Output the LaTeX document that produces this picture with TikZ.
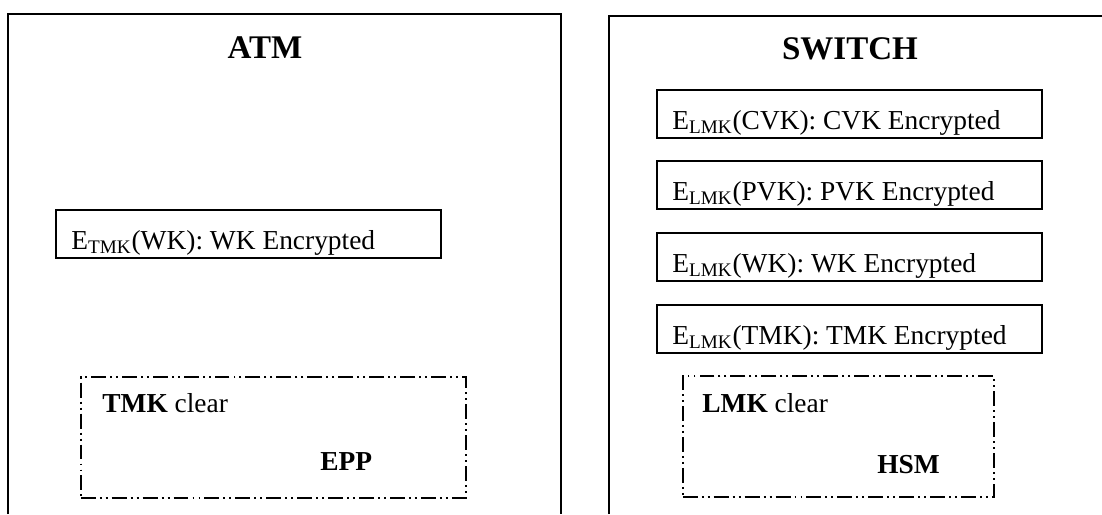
\documentclass[tikz,border=0pt]{standalone}
\usepackage{fontspec}
\setmainfont{Liberation Serif}
\usetikzlibrary{positioning}

\begin{document}
\begin{tikzpicture}[x=0.02cm, y=-0.02cm,
	font=\fontsize{15.6}{18}\selectfont,
	keybox/.style={draw, line width=1.1pt, anchor=north west, minimum width=7.7cm, minimum height=0.97cm, inner sep=0pt},
	keytext/.style={anchor=base west, inner sep=0pt},
	title/.style={anchor=base, inner sep=0pt, font=\fontsize{18.8}{22}\selectfont\bfseries},
	securebox/.style={draw, line width=0.9pt, anchor=north west, minimum height=2.42cm, inner sep=0pt, dash pattern=on 8.5pt off 2.3pt on 1.1pt off 2.3pt on 1.1pt off 2.3pt}]

	\useasboundingbox (0,0) rectangle (1102,514);

	%the ATM (left)
	\draw[line width=1.1pt] (8,514) -- (8,14) -- (561,14) -- (561,514);
	\node[title] (atm) at (265,58) {ATM};
	\node[keybox] (wkbox) at (55,209) {};
	\node[keytext] (wk) at ([shift={(16,-10)}]wkbox.south west) {E\textsubscript{TMK}(WK): WK Encrypted};

	%the EPP inside the ATM (dash dot dot)
	\node[securebox, minimum width=7.7cm] (eppbox) at (80,376) {};
	\node[keytext] (tmk) at ([shift={(22,36)}]eppbox.north west) {\textbf{TMK} clear};
	\node[keytext] (epp) at ([shift={(240,94)}]eppbox.north west) {\textbf{EPP}};

	%the SWITCH (right)
	\draw[line width=1.1pt] (609,514) -- (609,16) -- (1102,16);
	\node[title] (switch) at (850,59) {SWITCH};
	\node[keybox] (cvkbox) at (656,89) {};
	\node[keytext] (cvk) at ([shift={(16,-10)}]cvkbox.south west) {E\textsubscript{LMK}(CVK): CVK Encrypted};
	\node[keybox] (pvkbox) at (656,160) {};
	\node[keytext] (pvk) at ([shift={(16,-10)}]pvkbox.south west) {E\textsubscript{LMK}(PVK): PVK Encrypted};
	\node[keybox] (swkbox) at (656,232) {};
	\node[keytext] (swk) at ([shift={(16,-10)}]swkbox.south west) {E\textsubscript{LMK}(WK): WK Encrypted};
	\node[keybox] (stmkbox) at (656,304) {};
	\node[keytext] (stmk) at ([shift={(16,-10)}]stmkbox.south west) {E\textsubscript{LMK}(TMK): TMK Encrypted};

	%the HSM inside the SWITCH
	\node[securebox, minimum width=6.22cm] (hsmbox) at (682,375) {};
	\node[keytext] (lmk) at ([shift={(20,37)}]hsmbox.north west) {\textbf{LMK} clear};
	\node[keytext] (hsm) at ([shift={(195,98)}]hsmbox.north west) {\textbf{HSM}};
\end{tikzpicture}
\end{document}
